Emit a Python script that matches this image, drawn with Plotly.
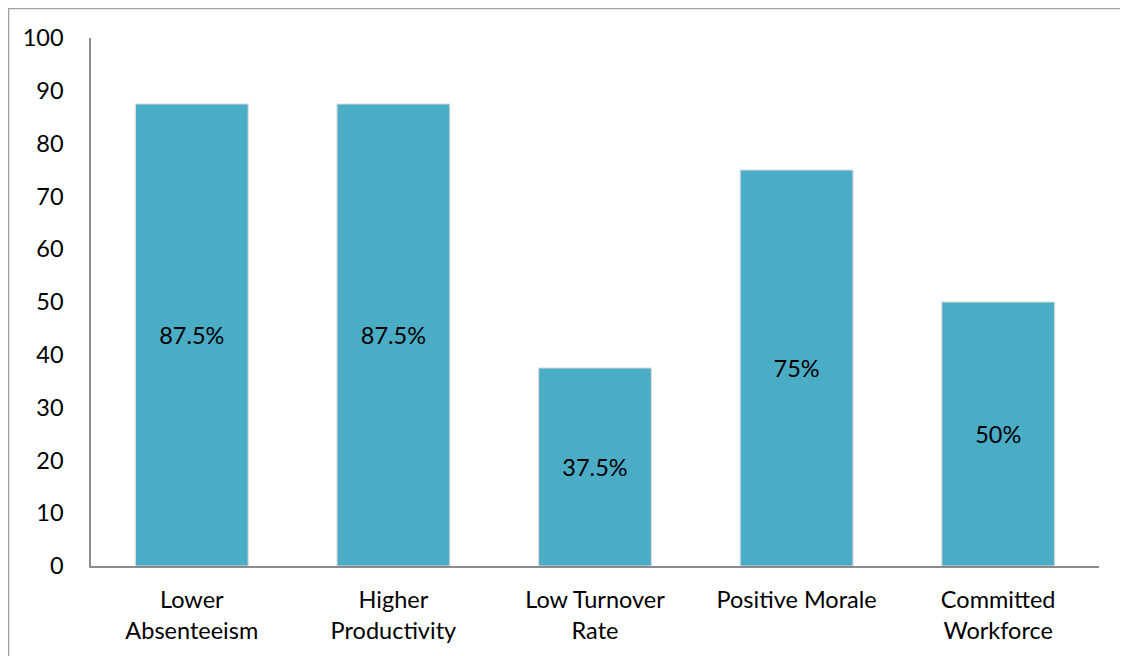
import plotly.graph_objects as go

categories = ["Lower<br>Absenteeism", "Higher<br>Productivity", "Low Turnover<br>Rate",
              "Positive Morale", "Committed<br>Workforce"]
values = [87.5, 87.5, 37.5, 75, 50]
labels = ["87.5%", "87.5%", "37.5%", "75%", "50%"]
y_ticks = list(range(0, 101, 10))

# page body has an 8px offset; figure sized accordingly
W, H = 1120, 648
L, R, T, B = 83, 29, 30, 90
pw, ph = W - L - R, H - T - B

FONT = "Lato, Open Sans, sans-serif"
FS = 23.5

fig = go.Figure(go.Bar(
    x=categories, y=values, text=labels,
    textposition="inside", insidetextanchor="middle",
    textfont=dict(size=FS, color="black", family=FONT),
    marker=dict(color="#4BACC6", line=dict(color="#dcdcdc", width=1.2)),
    cliponaxis=False,
))

def px_x(x):
    return (x - L) / pw

def px_y(y):
    return (H - B - y) / ph

fig.add_shape(type="rect", xref="paper", yref="paper",
              x0=px_x(0.5), x1=px_x(1114), y0=px_y(660), y1=px_y(0.5),
              line=dict(color="#a0a0a0", width=1.5), fillcolor="rgba(0,0,0,0)", layer="below")

fig.update_layout(
    width=W, height=H,
    margin=dict(l=L, r=R, t=T, b=B),
    paper_bgcolor="white", plot_bgcolor="white",
    bargap=0.44,
    showlegend=False,
    font=dict(family=FONT, size=FS, color="black"),
    xaxis=dict(showline=True, linecolor="#8c8c8c", linewidth=1.5, showgrid=False,
               ticks="", ticklabelstandoff=12, tickfont=dict(size=FS, color="black")),
    yaxis=dict(range=[0, 100], tickvals=y_ticks, showline=True, linecolor="#8c8c8c",
               linewidth=1.5, showgrid=False, ticks="", ticklabelstandoff=21,
               tickfont=dict(size=FS, color="black"), zeroline=False),
)

fig.write_html("out.html")
